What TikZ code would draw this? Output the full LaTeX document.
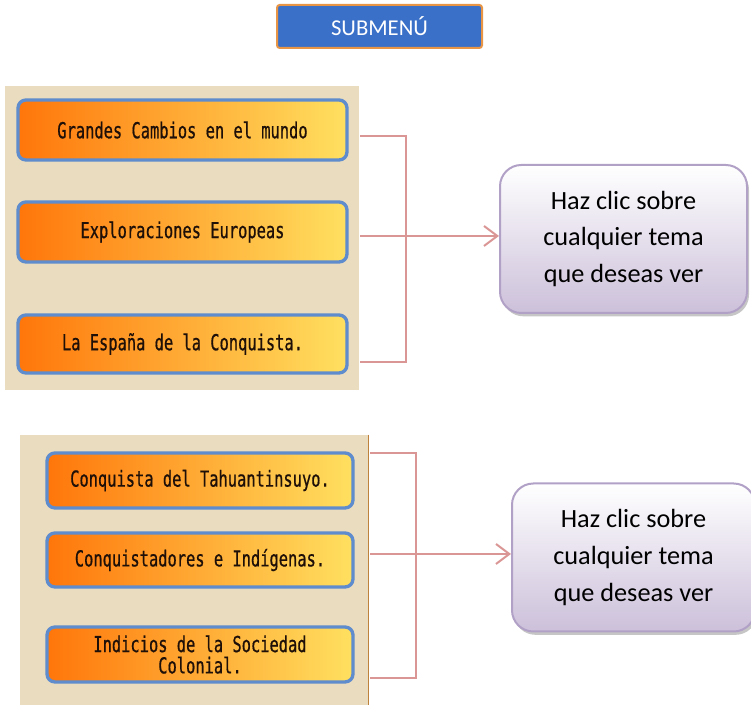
\documentclass[tikz,border=0pt]{standalone}
\usepackage{fontspec}
\setmainfont{Carlito}
\newfontfamily\botonfont[FakeStretch=0.7,FakeBold=0.6]{DejaVu Sans Mono}
\usetikzlibrary{positioning,fit,shadows,arrows.meta}
\definecolor{azul}{RGB}{58,112,200}
\definecolor{naranja}{RGB}{232,150,70}
\definecolor{pergamino}{RGB}{234,220,190}
\definecolor{marron}{RGB}{190,130,60}
\definecolor{azulboton}{RGB}{95,140,205}
\definecolor{naranjaboton}{RGB}{255,118,10}
\definecolor{amarillo}{RGB}{255,224,96}
\definecolor{tinta}{RGB}{30,16,8}
\definecolor{rosa}{RGB}{217,150,148}
\definecolor{lila}{RGB}{204,192,218}
\definecolor{lilaborde}{RGB}{178,161,199}
\tikzset{
  titulo/.style = {rectangle, draw=naranja, line width=1.5pt, fill=azul, rounded corners=2pt, minimum width=153.75pt, minimum height=32.25pt, inner sep=0, text=white, font=\fontsize{17}{20}\selectfont},
  panel/.style  = {rectangle, fill=pergamino, inner sep=0},
  boton/.style  = {rectangle, draw=azulboton, line width=2.5pt, rounded corners=6pt, left color=naranjaboton, right color=amarillo, inner sep=0, align=center, text=tinta, font=\botonfont\fontsize{16.5}{16}\selectfont},
  nota/.style   = {rectangle, draw=lilaborde, line width=1.5pt, rounded corners=16pt, top color=white, bottom color=lila, inner sep=0, minimum height=111pt, align=center, font=\fontsize{19.7}{27.4}\selectfont, drop shadow={shadow xshift=1.5pt, shadow yshift=-2.5pt, opacity=0.45, fill=gray}},
  link/.style   = {draw=rosa, line width=1.5pt},
  flecha/.style = {link, -{Straight Barb[length=10pt,width=15pt]}}
}
\begin{document}
\begin{tikzpicture}[x=0.75pt, y=-0.75pt]
  \useasboundingbox (0,0) rectangle (751,705);

  \node[titulo] (sm) at (379.5,26.5) {SUBMENÚ};

  % primer submenu
  \node[panel, fit={(5,86) (359,390)}] (p1) {};
  \node[boton, minimum width=246.75pt, minimum height=45pt]   (b1) at (182.5,130) {Grandes Cambios en el mundo};
  \node[boton, minimum width=246.75pt, minimum height=45pt]   (b2) at (182.5,232) {Exploraciones Europeas};
  \node[boton, minimum width=246.75pt, minimum height=43.5pt] (b3) at (182.5,344) {La España de la Conquista.};
  \node[nota, minimum width=185.25pt] (c1) at (623.5,239) {Haz clic sobre\\cualquier tema\\que deseas ver};

  \coordinate (s1) at (360,136); \coordinate (m1) at (360,236); \coordinate (u1) at (360,362);
  \coordinate (j1) at (406,236);
  \draw[link] (s1) -| (j1) |- (u1);
  \draw[flecha] (m1) -- (m1 -| c1.west);

  % segundo submenu
  \node[panel, fit={(20,435) (368,705)}] (p2) {};
  \draw[marron, line width=1pt] (p2.north east) -- (p2.south east);
  \node[boton, minimum width=229.5pt, minimum height=41.25pt] (b4) at (200,480.5) {Conquista del Tahuantinsuyo.};
  \node[boton, minimum width=229.5pt, minimum height=40.5pt]  (b5) at (200,560) {Conquistadores e Indígenas.};
  \node[boton, minimum width=229.5pt, minimum height=41.25pt] (b6) at (200,654.5) {Indicios de la Sociedad\\Colonial.};
  \node[nota, minimum width=182.25pt] (c2) at (633.5,557.5) {Haz clic sobre\\cualquier tema\\que deseas ver};

  \coordinate (s2) at (370,453); \coordinate (m2) at (370,554); \coordinate (u2) at (370,678);
  \coordinate (j2) at (416,554);
  \draw[link] (s2) -| (j2) |- (u2);
  \draw[flecha] (m2) -- (m2 -| c2.west);
\end{tikzpicture}
\end{document}
